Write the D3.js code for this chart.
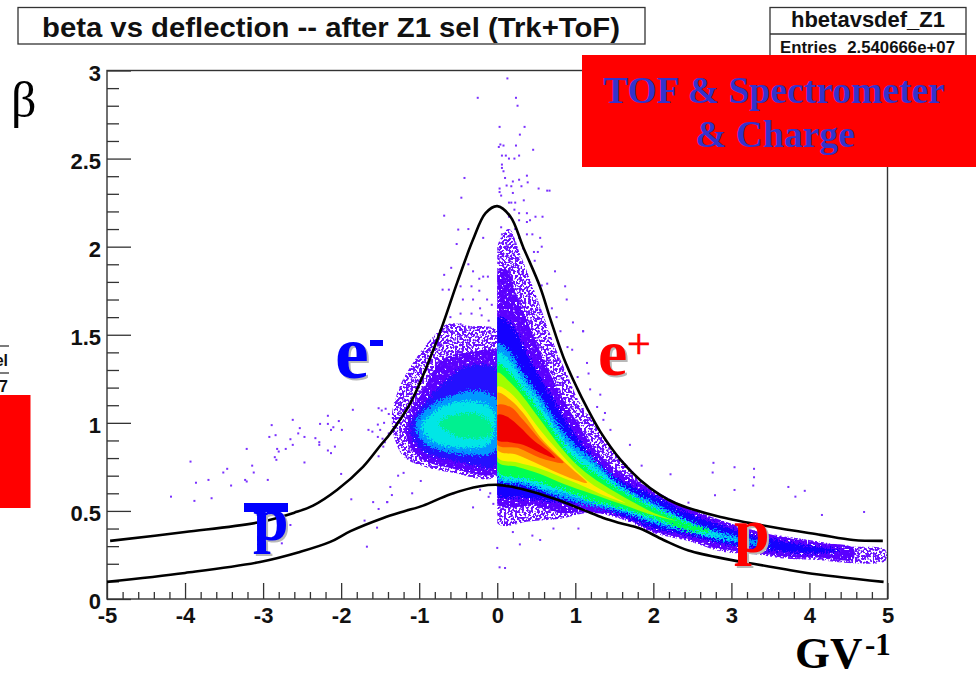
<!DOCTYPE html>
<html>
<head>
<meta charset="utf-8">
<script src="https://cdn.jsdelivr.net/npm/d3@7"></script>
<style>
html, body { margin: 0; padding: 0; background: #fff; overflow: hidden; }
svg { display: block; }
text { font-family: "Liberation Sans", Arial, sans-serif; font-weight: bold; fill: #111; }
.serif { font-family: "Liberation Serif", "Times New Roman", serif; }
</style>
</head>
<body>
<svg id="chart" width="979" height="674"></svg>
<script>
// axis ticks
const xTicks = [-5, -4, -3, -2, -1, 0, 1, 2, 3, 4, 5];
const yTicks = [0, 0.5, 1, 1.5, 2, 2.5, 3];

// the two black selection curves, [deflection, beta]
const upperCut = [[-4.96,.33],[-4,.38],[-3,.44],[-2.6,.49],[-2.36,.53],[-2.05,.62],[-1.72,.75],[-1.5,.87],[-1.37,.94],[-1.115,1.11],[-.77,1.47],[-.51,1.8],[-.31,2.04],[-.15,2.19],[0,2.23],[.17,2.17],[.33,2],[.55,1.77],[.68,1.59],[.85,1.37],[1.02,1.2],[1.15,1.085],[1.32,.95],[1.58,.79],[1.83,.676],[2.09,.59],[2.28,.545],[2.5,.51],[2.86,.466],[3.5,.41],[4.14,.364],[4.56,.335],[4.94,.33]];
const lowerCut = [[-5,.097],[-4,.148],[-3.04,.21],[-2.53,.267],[-2.14,.324],[-1.88,.385],[-1.46,.46],[-1.2,.497],[-.95,.53],[-.6,.595],[-.22,.64],[0,.648],[.2,.636],[.46,.608],[.77,.563],[1.1,.506],[1.36,.46],[1.58,.43],[1.83,.4],[2.13,.335],[2.45,.275],[2.99,.222],[3.28,.2],[3.67,.17],[3.97,.148],[4.95,.097]];

// negative side, density contours
const negSparse = [[0,1.52],[-.35,1.55],[-.64,1.56],[-.86,1.47],[-1.08,1.34],[-1.24,1.216],[-1.35,1.045],[-1.31,.903],[-1.18,.8],[-.92,.75],[-.6,.72],[0,.7]];
const negPurple = [[0,1.4],[-.35,1.4],[-.7,1.36],[-.98,1.16],[-1.15,1.02],[-1.15,.9],[-.95,.79],[-.55,.74],[0,.72]];
const negBlue = [[0,1.3],[-.4,1.32],[-.7,1.22],[-.95,1.1],[-1.12,.97],[-.95,.84],[-.5,.78],[0,.76]];
const negAzure = [[0,1.13],[-.25,1.18],[-.55,1.16],[-.85,1.1],[-1.05,1],[-.95,.89],[-.6,.83],[-.15,.82],[0,.85]];
const negCyan = [[-.05,1.07],[-.3,1.12],[-.6,1.11],[-.85,1.05],[-.97,.98],[-.85,.9],[-.5,.86],[-.1,.88]];
const negGreen = [[-.08,1],[-.25,1.05],[-.5,1.05],[-.75,1],[-.55,.93],[-.25,.91],[-.08,.93]];

// positive side
const posSparse = [[0,2],[.15,2.1],[.3,1.95],[.45,1.78],[.6,1.6],[.75,1.42],[.9,1.27],[1.05,1.12],[1.25,1],[1.5,.84],[1.75,.72],[2,.6],[2.3,.53],[2.7,.46],[3.1,.41],[3.5,.37],[4,.335],[4.5,.3],[4.97,.28],[4.97,.215],[4.5,.205],[4.14,.22],[3.71,.228],[3.28,.255],[2.86,.27],[2.44,.33],[2,.375],[1.58,.455],[1.2,.49],[.8,.455],[.4,.44],[0,.43]];
const posPurple = [[0,1.85],[.12,1.87],[.25,1.72],[.4,1.56],[.55,1.4],[.7,1.26],[.85,1.13],[1,1.02],[1.2,.88],[1.4,.78],[1.58,.72],[2,.62],[2.44,.517],[2.86,.449],[3.28,.39],[3.71,.347],[4.14,.318],[4.56,.29],[4.56,.225],[4.14,.235],[3.71,.24],[3.28,.265],[2.86,.285],[2.44,.34],[2,.385],[1.58,.465],[1.2,.49],[.8,.49],[.5,.53],[0,.545]];
const posBlue = [[0,1.6],[.17,1.56],[.42,1.36],[.68,1.16],[.94,.97],[1.32,.76],[1.58,.676],[2,.59],[2.44,.489],[2.86,.42],[3.28,.364],[3.71,.324],[4.14,.295],[4.4,.275],[4.14,.26],[3.71,.267],[3.28,.29],[2.86,.318],[2.44,.364],[2,.4],[1.58,.477],[1.19,.53],[.77,.55],[.3,.575],[0,.59]];
const posAzure = [[0,1.45],[.17,1.4],[.33,1.28],[.55,1.15],[.77,1],[.97,.886],[1.19,.807],[1.58,.648],[2,.55],[2.44,.449],[2.86,.38],[3.28,.335],[3.5,.31],[3.28,.307],[2.86,.335],[2.44,.38],[2,.43],[1.58,.494],[1.19,.53],[.77,.58],[.64,.6],[.33,.648],[0,.676]];
const posCyan = [[0,1.4],[.17,1.347],[.33,1.24],[.55,1.108],[.77,.96],[.97,.847],[1.19,.773],[1.58,.635],[2,.53],[2.44,.44],[2.86,.365],[3.1,.335],[2.86,.345],[2.44,.385],[2,.445],[1.58,.505],[1.19,.55],[.85,.6],[.64,.62],[.33,.665],[0,.695]];
const posGreen = [[0,1.34],[.17,1.28],[.33,1.19],[.55,1.06],[.77,.92],[.97,.807],[1.19,.733],[1.58,.619],[2,.517],[2.44,.43],[2.73,.386],[2.44,.39],[2,.46],[1.58,.517],[1.19,.5625],[.85,.62],[.72,.636],[.33,.6875],[0,.716]];
const posLime = [[0,1.284],[.17,1.227],[.33,1.148],[.55,1.017],[.77,.886],[.97,.784],[1.19,.7],[1.54,.6],[2,.49],[2.28,.445],[2,.475],[1.58,.54],[1.19,.6],[.87,.65],[.55,.71],[.26,.75],[0,.78]];
const posYellow = [[0,1.205],[.17,1.17],[.33,1.09],[.55,.96],[.77,.847],[.97,.75],[1.19,.66],[1.41,.6],[1.64,.545],[1.41,.58],[.97,.665],[.55,.74],[.26,.775],[0,.805]];
const posOrange = [[0,1.17],[.17,1.13],[.33,1.057],[.55,.92],[.77,.818],[.97,.733],[1.15,.66],[.9,.693],[.55,.761],[.26,.818],[0,.847]];
const posOrangeRed = [[0,1.1],[.17,1.09],[.33,1.017],[.55,.903],[.72,.83],[.85,.773],[.55,.8],[.26,.858],[0,.875]];
const posRed = [[0,1.045],[.13,1.034],[.29,.977],[.46,.903],[.68,.83],[.74,.8],[.55,.83],[.33,.875],[.13,.892],[0,.903]];

// single entries outside the main population
const strayTop = [[.13,2.955],[-.25,2.845],[.24,2.845],[.26,2.8],[.03,2.68],[.35,2.68],[.29,2.636],[.04,2.58],[.02,2.566],[.08,2.574],[.24,2.574],[.46,2.55],[.06,2.517],[.11,2.517],[.15,2.5],[.22,2.5],[.28,2.517],[.06,2.466],[.06,2.447],[.08,2.428],[.1,2.39],[-.42,2.39],[.38,2.403],[.2,2.37],[.28,2.38],[.39,2.365],[.12,2.347],[.18,2.343],[.31,2.343],[.03,2.33],[.53,2.33],[.64,2.318],[.67,2.318],[.03,2.31],[.2,2.305],[-.46,2.278],[.05,2.29],[.34,2.263],[.15,2.25],[.18,2.25],[.23,2.25],[.22,2.21],[.28,2.19],[.38,2.19],[.15,2.17],[.28,2.15],[.38,2.14],[.05,2.11],[.06,2.07],[.17,2.07],[.23,2.1],[.28,2.05],[.38,2.07],[.05,2.02],[.12,2.01],[.23,2.02],[.33,1.99]];
const strayArch = [[-.68,2.176],[-.5,2.097],[-.37,2.1],[-.52,2.015],[-.18,2.05],[-.37,1.9],[-.31,1.86],[-.23,1.818],[-.18,1.83],[-.12,1.83],[-.59,1.88],[-.68,1.84],[-.7,1.756],[-.62,1.756],[-.47,1.775],[-.33,1.775],[-.23,1.75],[-.31,1.7],[-.44,1.7],[-.13,1.7],[-.07,1.67],[-.22,1.65],[-.47,1.62],[-.33,1.62],[-.6,1.6],[-.2,1.61],[-.11,1.58],[-.47,1.56],[-.33,1.54],[-.64,1.53],[-.09,1.54],[-.56,1.51],[-.47,1.49],[-.17,1.51],[-.4,1.53],[-.26,1.49],[.49,2.17],[.58,2.17],[.42,2.15],[.55,2.05],[.45,2.07],[.47,1.97],[.52,1.97],[.57,2],[.48,1.92],[.74,1.86],[.87,1.775],[.89,1.7],[.97,1.57],[1.1,1.52],[.76,1.6],[.64,1.79],[.57,1.78],[.7,1.65],[.81,1.52]];
const strayLeft = [[-1.85,1.074],[-2.17,1.04],[-2.62,1.017],[-2.89,.987],[-2.27,.994],[-2.17,.994],[-2.03,1.01],[-2.53,.97],[-2.1,.975],[-2.13,.96],[-1.99,.96],[-2.55,.94],[-2.84,.93],[-2.92,.92],[-2.47,.92],[-2.33,.913],[-2.65,.907],[-2.62,.875],[-2.28,.89],[-2.28,.875],[-2.08,.865],[-3.21,.852],[-2.82,.852],[-2.71,.852],[-2.8,.837],[-2.17,.843],[-2.13,.828],[-2.85,.805],[-2.83,.79],[-3.93,.78],[-2.47,.775],[-3.14,.757],[-3.46,.739],[-3.51,.718],[-3.12,.718],[-2,.71],[-3.7,.676],[-3.86,.66],[-3.23,.676],[-3.21,.667],[-2.94,.676],[-3.41,.644],[-4.18,.581],[-3.66,.572],[-3.88,.557],[-1.87,.566],[-1.59,.55],[-1.41,.55],[-1.52,.511],[-1.7,.445],[-1.54,.405],[-1.67,.297],[-2.76,.316],[-2.65,.42],[-1.52,1.083],[-1.48,1.07],[-1.43,1.08],[-1.39,1.05],[-1.45,1],[-1.53,.99],[-1.65,.96],[-1.6,.95],[-1.5,.96],[-1.47,.91],[-1.53,.92],[-1.44,.89],[-1.39,.94],[-1.52,.81],[-1.46,.865],[-1.41,.55],[-1.35,.59],[-1.2,.716],[-1.37,.636],[-1.09,.6],[-.98,.67],[-.56,.6],[-.22,.62],[-.09,.6],[-.11,.58],[-.05,.54],[-.31,.52],[-1.27,.7]];
const strayRight = [[1.85,.757],[2.22,.708],[2.77,.773],[3.04,.748],[3.29,.739],[2.76,.718],[3.29,.691],[3.28,.644],[3.04,.619],[3.73,.636],[3.94,.614],[2.79,.589],[3.82,.581],[4.16,.477],[4.7,.494],[2.45,.547],[1.17,1.28],[1.32,1.16],[1.38,1.056],[1.36,1.017],[1.7,.875],[1.45,.96],[1.28,1.09],[.9,1.43],[.96,1.415],[1.15,1.34],[1.1,1.52],[1.03,1.26],[1.19,1.19],[.1,.176],[.03,.18],[.29,.31],[0,.29],[.55,.335],[.2,.38],[.45,.36],[.72,.4],[1.04,.4]];

// ROOT palette steps, from the outer level inward
const negLevels = [negPurple, negBlue, negAzure, negCyan, negGreen];
const negColors = ["#5a00ff", "#2410ff", "#0098ff", "#00e6e6", "#00f090"];
const posLevels = [posPurple, posBlue, posAzure, posCyan, posGreen, posLime, posYellow, posOrange, posOrangeRed, posRed];
const posColors = ["#5a00ff", "#1400ff", "#0098ff", "#00e6e6", "#00ff50", "#a0ff00", "#ffee00", "#ff9900", "#ff5000", "#f00000"];

const svg = d3.select("#chart");
const plot = { left: 107, right: 887.5, top: 70.5, bottom: 599 };

let xScale = d3.scaleLinear().domain([-5, 5]).range([plot.left, plot.right]);
let yScale = d3.scaleLinear().domain([0, 3]).range([plot.bottom, plot.top]);

// grain filters, the 2D histogram is made of tiny bins
let defs = svg.append("defs");
let rough = defs.append("filter").attr("id", "rough")
    .attr("x", "-5%").attr("y", "-5%").attr("width", "110%").attr("height", "110%")
    .attr("color-interpolation-filters", "sRGB");
rough.append("feTurbulence").attr("type", "fractalNoise").attr("baseFrequency", 0.6)
    .attr("numOctaves", 2).attr("seed", 4).attr("result", "n");
rough.append("feDisplacementMap").attr("in", "SourceGraphic").attr("in2", "n")
    .attr("scale", 12).attr("xChannelSelector", "R").attr("yChannelSelector", "G");

function speckFilter(id, cut, seed) {
    let f = defs.append("filter").attr("id", id)
        .attr("x", "-5%").attr("y", "-5%").attr("width", "110%").attr("height", "110%")
        .attr("color-interpolation-filters", "sRGB");
    f.append("feTurbulence").attr("type", "fractalNoise").attr("baseFrequency", 0.45)
        .attr("numOctaves", 1).attr("seed", seed).attr("result", "n");
    f.append("feColorMatrix").attr("in", "n").attr("type", "matrix")
        .attr("values", "0 0 0 0 0  0 0 0 0 0  0 0 0 0 0  14 0 0 0 " + cut).attr("result", "m");
    f.append("feComposite").attr("in", "SourceGraphic").attr("in2", "m").attr("operator", "in");
}
speckFilter("speck", -6.3, 9);
speckFilter("speck2", -4.6, 5);

defs.append("clipPath").attr("id", "negSide").append("rect")
    .attr("x", plot.left).attr("y", plot.top).attr("width", xScale(0) - plot.left).attr("height", plot.bottom - plot.top);
defs.append("clipPath").attr("id", "posSide").append("rect")
    .attr("x", xScale(0)).attr("y", plot.top).attr("width", plot.right - xScale(0)).attr("height", plot.bottom - plot.top);

let contour = d3.line()
    .x(d => xScale(d[0]))
    .y(d => yScale(d[1]))
    .curve(d3.curveCatmullRomClosed.alpha(0.5));
let cutLine = d3.line()
    .x(d => xScale(d[0]))
    .y(d => yScale(d[1]))
    .curve(d3.curveCatmullRom.alpha(0.5));

// title and stats boxes
svg.append("rect").attr("x", 18).attr("y", 7.5).attr("width", 627).attr("height", 36.5)
    .attr("fill", "#fff").attr("stroke", "#333").attr("stroke-width", 1.3);
svg.append("text").attr("x", 42).attr("y", 37).attr("font-size", 27)
    .attr("textLength", 578).attr("lengthAdjust", "spacingAndGlyphs")
    .text("beta vs deflection -- after Z1 sel (Trk+ToF)");

svg.append("rect").attr("x", 770).attr("y", 7.5).attr("width", 196).attr("height", 60)
    .attr("fill", "#fff").attr("stroke", "#333").attr("stroke-width", 1.3);
svg.append("line").attr("x1", 770).attr("x2", 966).attr("y1", 34).attr("y2", 34)
    .attr("stroke", "#333").attr("stroke-width", 1.3);
svg.append("text").attr("x", 868).attr("y", 27).attr("text-anchor", "middle")
    .attr("font-size", 22).text("hbetavsdef_Z1");
svg.append("text").attr("x", 780).attr("y", 53).attr("font-size", 16.8).text("Entries");
svg.append("text").attr("x", 955).attr("y", 53).attr("text-anchor", "end").attr("font-size", 16.8).text("2.540666e+07");

// piece of the neighbouring panel at the left edge
svg.append("line").attr("x1", 0).attr("x2", 9).attr("y1", 346).attr("y2", 346).attr("stroke", "#333").attr("stroke-width", 1.3);
svg.append("line").attr("x1", 0).attr("x2", 9).attr("y1", 373).attr("y2", 373).attr("stroke", "#333").attr("stroke-width", 1.3);
svg.append("text").attr("x", 8).attr("y", 366).attr("text-anchor", "end").attr("font-size", 16).text("el");
svg.append("text").attr("x", 8).attr("y", 392).attr("text-anchor", "end").attr("font-size", 16).text("7");
svg.append("rect").attr("x", 0).attr("y", 395).attr("width", 30.5).attr("height", 113).attr("fill", "#ff0000");

// histogram, negative side first, then the positive side on top of it
function drawSide(clipId, sparse, levels, colors) {
    let side = svg.append("g").attr("clip-path", "url(#" + clipId + ")");
    side.append("path").attr("d", contour(sparse)).attr("fill", "#6a10ff").attr("filter", "url(#speck)");
    side.append("path").datum(levels[0]).attr("d", contour).attr("fill", colors[0]).attr("filter", "url(#speck2)");
    side.selectAll("path.level")
        .data(levels.slice(1))
        .join("path")
        .attr("class", "level")
        .attr("d", contour)
        .attr("fill", (d, i) => colors[i + 1])
        .attr("filter", (d, i) => i < 4 ? "url(#rough)" : null);
}
drawSide("negSide", negSparse, negLevels, negColors);
drawSide("posSide", posSparse, posLevels, posColors);

svg.append("g").selectAll("rect")
    .data(strayTop.concat(strayArch, strayLeft, strayRight))
    .join("rect")
    .attr("x", d => xScale(d[0]) - 1)
    .attr("y", d => yScale(d[1]) - 1)
    .attr("width", 2)
    .attr("height", 2)
    .attr("fill", "#7a30ff");

// frame
svg.append("rect").attr("x", plot.left).attr("y", plot.top)
    .attr("width", plot.right - plot.left).attr("height", plot.bottom - plot.top)
    .attr("fill", "none").attr("stroke", "#333").attr("stroke-width", 1.4);

// axes, ticks point inside like ROOT does
let xMinor = d3.range(-50, 51, 2).map(d => d / 10).filter(d => !xTicks.includes(d));
let yMinor = d3.range(0, 31).map(d => d / 10).filter(d => !yTicks.includes(d));

let xAxis = svg.append("g").attr("class", "axis axis-x")
    .attr("transform", "translate(0," + plot.bottom + ")");
xAxis.call(d3.axisBottom(xScale).tickValues(xMinor).tickSize(-7).tickFormat(""));
xAxis.append("g").call(d3.axisBottom(xScale).tickValues(xTicks).tickSize(-16).tickPadding(24).tickFormat(d => String(d)));

let yAxis = svg.append("g").attr("class", "axis axis-y")
    .attr("transform", "translate(" + plot.left + ",0)");
yAxis.call(d3.axisLeft(yScale).tickValues(yMinor).tickSize(-12).tickFormat(""));
yAxis.append("g").call(d3.axisLeft(yScale).tickValues(yTicks).tickSize(-24).tickPadding(6).tickFormat(d => String(d)));

svg.selectAll(".axis path.domain").attr("stroke", "none");
svg.selectAll(".axis line").attr("stroke", "#333").attr("stroke-width", 1.3);
svg.selectAll(".axis text").attr("font-size", 22)
    .style("font-family", '"Liberation Sans", Arial, sans-serif').style("font-weight", "bold").attr("fill", "#111");
xAxis.selectAll("text").attr("dy", 0).attr("y", 24);
yAxis.selectAll("text").attr("dy", "0.45em");

// cut curves
[upperCut, lowerCut].forEach(function (c) {
    svg.append("path").attr("d", cutLine(c)).attr("fill", "none").attr("stroke", "#000").attr("stroke-width", 2.6);
});

// hand labels pasted over the plot
function shadowLabel(x, y, size, color, label) {
    svg.append("text").attr("class", "serif").attr("x", x + 2).attr("y", y + 2).attr("font-size", size)
        .style("fill", "#b8b8b8").text(label);
    svg.append("text").attr("class", "serif").attr("x", x).attr("y", y).attr("font-size", size)
        .style("fill", color).text(label);
}
shadowLabel(335, 378, 76, "#0000ff", "e");
svg.append("rect").attr("x", 370).attr("y", 340).attr("width", 13).attr("height", 6).attr("fill", "#0000ff");
shadowLabel(598, 375, 66, "#ff0000", "e");
svg.append("text").attr("class", "serif").attr("x", 627).attr("y", 358).attr("font-size", 42)
    .style("fill", "#ff0000").style("stroke", "#ff0000").style("stroke-width", 0.7).style("font-weight", "normal").text("+");
shadowLabel(734, 552, 64, "#ff0000", "p");
shadowLabel(253, 540, 64, "#0000ff", "p");
svg.append("rect").attr("x", 244).attr("y", 503).attr("width", 44).attr("height", 9).attr("fill", "#0000ff");

svg.append("text").attr("class", "serif").attr("x", 11).attr("y", 117).attr("font-size", 50)
    .style("fill", "#000").style("font-weight", "normal").text("β");
svg.append("text").attr("class", "serif").attr("x", 795).attr("y", 668).attr("font-size", 45)
    .style("fill", "#000").text("GV");
svg.append("text").attr("class", "serif").attr("x", 865).attr("y", 655).attr("font-size", 31)
    .style("fill", "#000").text("-1");

// red banner
svg.append("rect").attr("x", 582).attr("y", 55).attr("width", 394).attr("height", 112).attr("fill", "#ff0000");
svg.append("text").attr("class", "serif").attr("x", 774).attr("y", 103).attr("text-anchor", "middle")
    .attr("font-size", 37.6).style("fill", "#3333cc").text("TOF & Spectrometer");
svg.append("text").attr("class", "serif").attr("x", 775).attr("y", 147).attr("text-anchor", "middle")
    .attr("font-size", 37.6).style("fill", "#3333cc").text("& Charge");
</script>
</body>
</html>
